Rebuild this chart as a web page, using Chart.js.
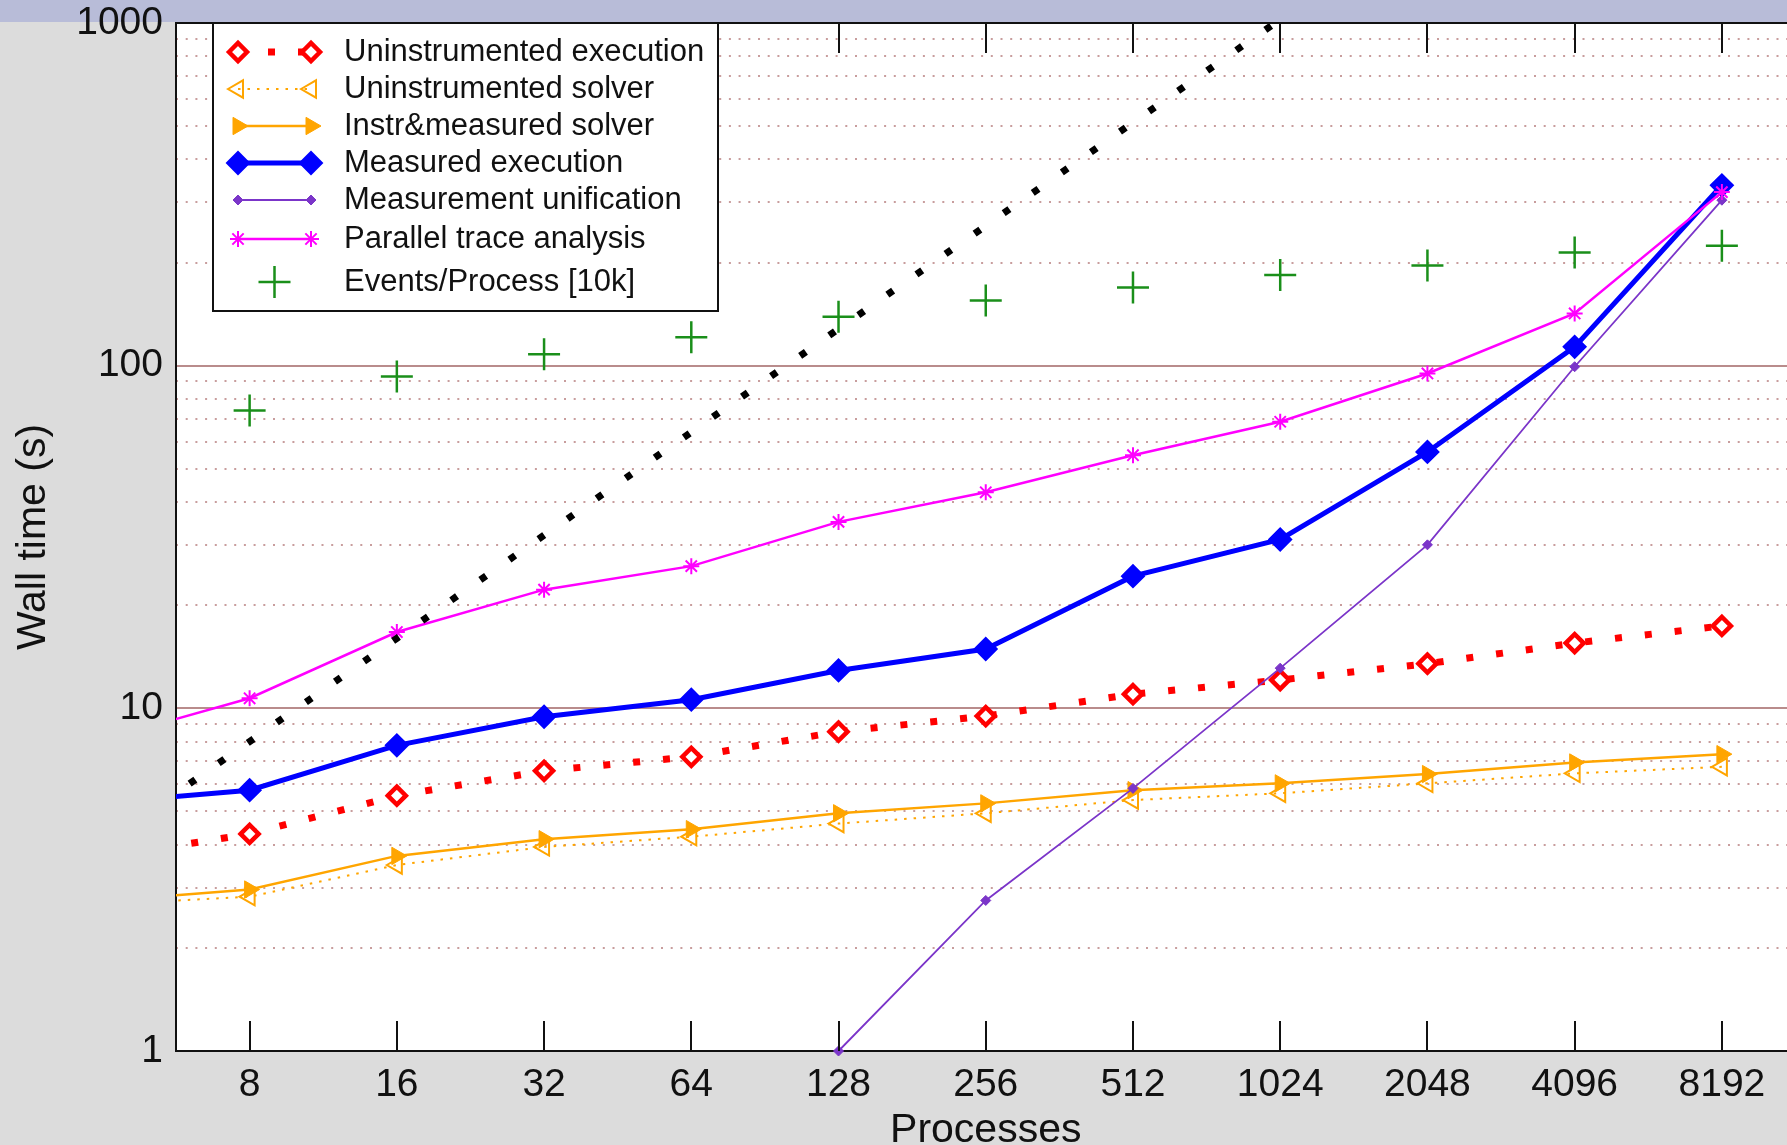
<!DOCTYPE html>
<html>
<head>
<meta charset="utf-8">
<script src="https://cdn.jsdelivr.net/npm/chart.js@4/dist/chart.umd.min.js"></script>
<style>
  html, body { margin: 0; padding: 0; overflow: hidden; width: 1787px; height: 1145px; }
  body { background: linear-gradient(to bottom, #b8bcd8 0, #b8bcd8 22px, #dcdcdc 22px); }
  #wrap { position: absolute; left: 0; top: 0; width: 1814px; height: 1160px; }
</style>
</head>
<body>
<div id="wrap"><canvas id="c" width="1814" height="1160"></canvas></div>
<script>
// Process counts (x) and wall times in seconds (y)
const processes = [4, 8, 16, 32, 64, 128, 256, 512, 1024, 2048, 4096, 8192];
const xTickValues = [8, 16, 32, 64, 128, 256, 512, 1024, 2048, 4096, 8192];
const xTickLabels = ['8', '16', '32', '64', '128', '256', '512', '1024', '2048', '4096', '8192'];
const yTickValues = [1, 10, 100, 1000];
const yTickLabels = ['1', '10', '100', '1000'];
const minorMantissas = [2, 3, 4, 5, 6, 7, 8, 9];
const minorDecades = [1, 10, 100];

const uninstrumentedExecution = [3.67, 4.30, 5.56, 6.57, 7.22, 8.55, 9.49, 11.0, 12.1, 13.5, 15.5, 17.4];
const uninstrumentedSolver    = [2.68, 2.82, 3.49, 3.94, 4.22, 4.61, 4.94, 5.40, 5.65, 6.04, 6.46, 6.75];
const instrMeasuredSolver     = [2.74, 2.96, 3.71, 4.15, 4.44, 4.94, 5.28, 5.77, 6.04, 6.43, 6.95, 7.35];
const measuredExecution       = [5.3, 5.77, 7.8, 9.45, 10.6, 12.9, 14.9, 24.3, 31.1, 56, 113.5, 336];
const measurementUnification  = [null, null, null, null, null, 1.0, 2.75, 5.84, 13.1, 30.0, 99.3, 304];
const parallelTraceAnalysis   = [8.1, 10.7, 16.7, 22.2, 26.0, 35.0, 42.7, 54.8, 68.6, 94.9, 142, 321];
const eventsPerProcess        = [null, 74, 93, 108, 121, 139, 155, 169, 184, 196, 214, 224];
const linearScaling           = [4, 8, 16, 32, 64, 128, 256, 512, 1024, 2048, 4096, 8192];

const FONT = "'Liberation Sans', Arial, Helvetica, sans-serif";
const minorTickValues = [];
minorDecades.forEach(d => minorMantissas.forEach(m => minorTickValues.push(m * d)));

function toPoints(values) {
  return processes.map((p, i) => ({ x: p, y: values[i] })).filter(pt => pt.y !== null);
}

// keep the plot frame fixed: no extra room reserved for edge labels
function noEdgePadding(s) {
  s.paddingLeft = 0; s.paddingRight = 0; s.paddingTop = 0; s.paddingBottom = 0;
}

// white plot background
const plotBackground = {
  id: 'plotBackground',
  beforeDraw(chart) {
    const { ctx, chartArea: a } = chart;
    ctx.save();
    ctx.fillStyle = '#ffffff';
    ctx.fillRect(a.left, a.top, a.right - a.left, a.bottom - a.top);
    ctx.restore();
  }
};

// top frame line and inward tick marks on top and bottom edges
const frameTicks = {
  id: 'frameTicks',
  afterDatasetsDraw(chart) {
    const { ctx, chartArea: a } = chart;
    const xs = chart.scales.x;
    ctx.save();
    ctx.strokeStyle = '#111';
    ctx.lineWidth = 2;
    ctx.setLineDash([]);
    ctx.beginPath();
    xs.ticks.forEach(t => {
      const px = Math.round(xs.getPixelForValue(t.value));
      ctx.moveTo(px, a.bottom);
      ctx.lineTo(px, a.bottom - 30);
      ctx.moveTo(px, a.top);
      ctx.lineTo(px, a.top + 30);
    });
    ctx.moveTo(a.left, a.top);
    ctx.lineTo(a.right, a.top);
    ctx.stroke();
    ctx.restore();
  }
};

// boxed legend with a line sample and a marker at each end
const lineLegend = {
  id: 'lineLegend',
  afterDatasetsDraw(chart) {
    const { ctx, chartArea: a } = chart;
    const left = a.left + 37, top = a.top, right = a.left + 542, bottom = a.top + 288;
    const rowOffsets = [29, 66, 103, 140, 177, 216, 259];
    ctx.save();
    ctx.fillStyle = '#ffffff';
    ctx.fillRect(left, top, right - left, bottom - top);
    ctx.strokeStyle = '#111';
    ctx.lineWidth = 2;
    ctx.setLineDash([]);
    ctx.strokeRect(left, top, right - left, bottom - top);
    const items = chart.data.datasets.filter(ds => ds.label);
    items.forEach((ds, i) => {
      const y = top + rowOffsets[i];
      const x1 = left + 25, x2 = left + 98;
      if (ds.showLine !== false) {
        ctx.save();
        ctx.strokeStyle = ds.borderColor;
        ctx.lineWidth = ds.borderWidth;
        ctx.setLineDash(ds.borderDash || []);
        ctx.lineCap = 'butt';
        ctx.beginPath();
        ctx.moveTo(x1, y);
        ctx.lineTo(x2, y);
        ctx.stroke();
        ctx.restore();
      }
      const opts = { pointStyle: ds.pointStyle, rotation: ds.pointRotation || 0, radius: ds.pointRadius, borderWidth: ds.pointBorderWidth };
      const xsMarks = ds.showLine === false ? [(x1 + x2) / 2] : [x1, x2];
      xsMarks.forEach(mx => {
        ctx.save();
        ctx.setLineDash([]);
        ctx.fillStyle = ds.pointBackgroundColor;
        ctx.strokeStyle = ds.pointBorderColor;
        ctx.lineWidth = ds.pointBorderWidth;
        Chart.helpers.drawPoint(ctx, opts, mx, y);
        ctx.restore();
      });
      ctx.fillStyle = '#111';
      ctx.font = '31px ' + FONT;
      ctx.textAlign = 'left';
      ctx.textBaseline = 'middle';
      ctx.fillText(ds.label, left + 131, y);
    });
    ctx.restore();
  }
};

const datasets = [
  { label: 'Uninstrumented execution', data: toPoints(uninstrumentedExecution),
    borderColor: '#ff0000', borderWidth: 7, borderDash: [7, 23], borderCapStyle: 'butt',
    pointStyle: 'rectRot', pointRadius: 9, pointBorderWidth: 4.5,
    pointBackgroundColor: '#ffffff', pointBorderColor: '#ff0000', clip: 0, order: 8 },
  { label: 'Uninstrumented solver', data: toPoints(uninstrumentedSolver),
    borderColor: '#ffa500', borderWidth: 2, borderDash: [2.5, 7], borderCapStyle: 'butt',
    pointStyle: 'triangle', pointRotation: -90, pointRadius: 10, pointBorderWidth: 2,
    pointBackgroundColor: 'rgba(255,255,255,0)', pointBorderColor: '#ffa500', clip: 0, order: 7 },
  { label: 'Instr&measured solver', data: toPoints(instrMeasuredSolver),
    borderColor: '#ffa500', borderWidth: 2.5,
    pointStyle: 'triangle', pointRotation: 90, pointRadius: 10, pointBorderWidth: 1,
    pointBackgroundColor: '#ffa500', pointBorderColor: '#ffa500', clip: 0, order: 6 },
  { label: 'Measured execution', data: toPoints(measuredExecution),
    borderColor: '#0000ff', borderWidth: 5,
    pointStyle: 'rectRot', pointRadius: 11, pointBorderWidth: 2,
    pointBackgroundColor: '#0000ff', pointBorderColor: '#0000ff', clip: 0, order: 5 },
  { label: 'Measurement unification', data: toPoints(measurementUnification),
    borderColor: '#7b35c9', borderWidth: 1.8,
    pointStyle: 'rectRot', pointRadius: 5, pointBorderWidth: 1,
    pointBackgroundColor: '#7b35c9', pointBorderColor: '#7b35c9',
    clip: { left: 0, top: 0, right: 0, bottom: 10 }, order: 4 },
  { label: 'Parallel trace analysis', data: toPoints(parallelTraceAnalysis),
    borderColor: '#ff00ff', borderWidth: 2.5,
    pointStyle: 'star', pointRadius: 8, pointBorderWidth: 2,
    pointBackgroundColor: '#ff00ff', pointBorderColor: '#ff00ff', clip: 0, order: 3 },
  { label: 'Events/Process [10k]', data: toPoints(eventsPerProcess),
    showLine: false, borderColor: '#1a8f1a', borderWidth: 0,
    pointStyle: 'cross', pointRadius: 16, pointBorderWidth: 2.5,
    pointBackgroundColor: '#1a8f1a', pointBorderColor: '#1a8f1a', clip: 0, order: 2 },
  { data: toPoints(linearScaling),
    borderColor: '#000000', borderWidth: 7, borderDash: [7, 28.5], borderCapStyle: 'butt',
    pointRadius: 0, clip: 0, order: 1 }
];

new Chart(document.getElementById('c'), {
  type: 'line',
  data: { datasets },
  options: {
    responsive: false, animation: false, devicePixelRatio: 1, events: [],
    layout: { padding: { left: 9, top: 23, right: 5, bottom: 0 } },
    elements: { line: { tension: 0, fill: false } },
    plugins: { legend: { display: false }, tooltip: { enabled: false } },
    scales: {
      x: {
        type: 'logarithmic', position: 'bottom',
        min: 4 * Math.SQRT2, max: 8192 * Math.SQRT2,
        afterBuildTicks: s => { s.ticks = xTickValues.map(v => ({ value: v })); },
        afterFit: s => { s.height = 109; noEdgePadding(s); },
        ticks: { autoSkip: false, maxRotation: 0, padding: 11, color: '#111',
          font: { family: FONT, size: 39 },
          callback: v => xTickLabels[xTickValues.indexOf(v)] },
        grid: { display: false, drawTicks: false },
        border: { display: true, color: '#111', width: 2 },
        title: { display: true, text: 'Processes', color: '#111',
          font: { family: FONT, size: 41 }, padding: { top: 0, bottom: 5 } }
      },
      y: {
        type: 'logarithmic', position: 'left', min: 1, max: 1000,
        afterBuildTicks: s => { s.ticks = yTickValues.map(v => ({ value: v })); },
        afterFit: s => { s.width = 167; noEdgePadding(s); },
        ticks: { padding: 13, color: '#111', font: { family: FONT, size: 39 },
          callback: v => yTickLabels[yTickValues.indexOf(v)] },
        grid: { drawTicks: false, lineWidth: 2,
          color: c => (c.tick && (c.tick.value === 10 || c.tick.value === 100)) ? 'rgb(185,140,140)' : 'rgba(0,0,0,0)' },
        border: { display: true, color: '#111', width: 2 },
        title: { display: true, text: 'Wall time (s)', color: '#111',
          font: { family: FONT, size: 41 }, padding: { top: 0, bottom: 0 } }
      },
      yMinor: {
        type: 'logarithmic', position: 'left', min: 1, max: 1000,
        afterBuildTicks: s => { s.ticks = minorTickValues.map(v => ({ value: v })); },
        afterFit: s => { s.width = 0; noEdgePadding(s); },
        ticks: { display: false },
        grid: { drawTicks: false, lineWidth: 2, color: 'rgba(190,140,140,0.85)' },
        border: { display: false, dash: [2, 7.7] }
      }
    }
  },
  plugins: [plotBackground, frameTicks, lineLegend]
});
</script>
</body>
</html>
